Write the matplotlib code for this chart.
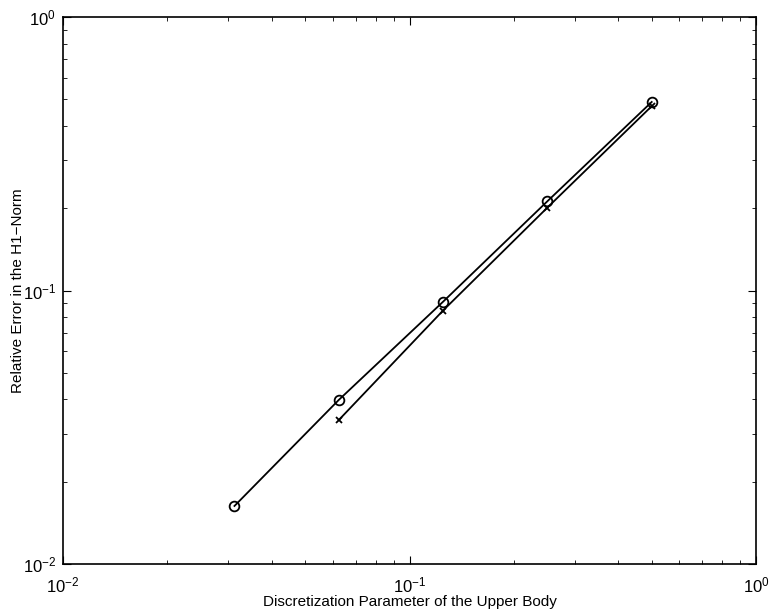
import matplotlib
import matplotlib.pyplot as plt
from matplotlib.ticker import LogLocator, NullFormatter
matplotlib.use('Agg')

plt.rcParams['font.family'] = ['Liberation Sans', 'DejaVu Sans']
plt.rcParams['mathtext.fontset'] = 'custom'
plt.rcParams['mathtext.rm'] = 'Liberation Sans'
plt.rcParams['mathtext.it'] = 'Liberation Sans'
plt.rcParams['mathtext.bf'] = 'Liberation Sans'

# discretization parameter h and relative errors
h_circle = [1 / 32, 1 / 16, 1 / 8, 1 / 4, 1 / 2]
err_circle = [0.0163, 0.0398, 0.091, 0.212, 0.489]
h_cross = [1 / 16, 1 / 8, 1 / 4, 1 / 2]
err_cross = [0.0336, 0.0845, 0.201, 0.472]

fig = plt.figure(figsize=(7.71, 6.15), dpi=100)
ax = fig.add_axes([63 / 771, 1 - 564 / 615, 693 / 771, 547 / 615])

ax.loglog(h_circle, err_circle, '-', color='black', lw=1.3,
          marker='o', markersize=7, markerfacecolor='none', markeredgewidth=1.3)
ax.loglog(h_cross, err_cross, '-', color='black', lw=1.3,
          marker='x', markersize=5, markeredgewidth=1.3)

ax.set_xlim(1e-2, 1e0)
ax.set_ylim(1e-2, 1e0)
ax.xaxis.set_major_locator(LogLocator(base=10, numticks=5))
ax.yaxis.set_major_locator(LogLocator(base=10, numticks=5))
ax.xaxis.set_minor_locator(LogLocator(base=10, subs=range(2, 10), numticks=20))
ax.yaxis.set_minor_locator(LogLocator(base=10, subs=range(2, 10), numticks=20))
ax.xaxis.set_minor_formatter(NullFormatter())
ax.yaxis.set_minor_formatter(NullFormatter())
ax.tick_params(which='both', direction='in', top=True, right=True, labelsize=12)
ax.tick_params(axis='x', which='major', pad=8)
ax.tick_params(axis='y', which='major', pad=5)
ax.tick_params(which='major', length=6)
ax.tick_params(which='minor', length=3)
for s in ax.spines.values():
    s.set_linewidth(1.2)

ax.set_xlabel('Discretization Parameter of the Upper Body', fontsize=11, labelpad=0)
ax.set_ylabel('Relative Error in the H1\u2212Norm', fontsize=11)
ax.yaxis.set_label_coords(-0.055, 0.5)

fig.savefig('out.png', dpi=100)
